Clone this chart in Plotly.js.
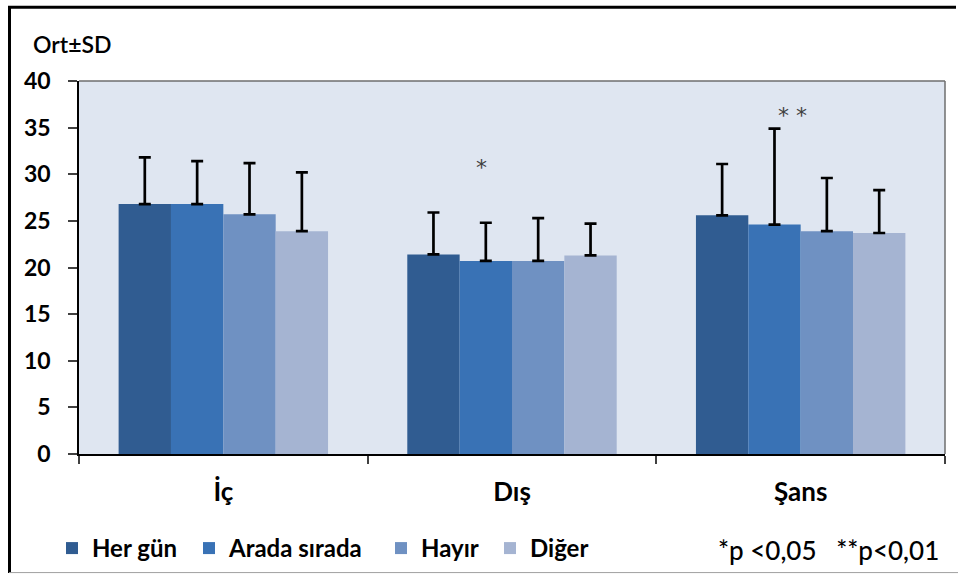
<!DOCTYPE html>
<html>
<head>
<meta charset="utf-8">
<script src="https://cdn.plot.ly/plotly-3.0.1.min.js"></script>
<style>
  html, body { margin: 0; padding: 0; background: #ffffff; }
  #chart { width: 958px; height: 583px; }
</style>
</head>
<body>
<div id="chart"></div>
<script>
// Data
const categories = ["İç", "Dış", "Şans"];
const seriesNames = ["Her gün", "Arada sırada", "Hayır", "Diğer"];
const herGun      = [26.8, 21.4, 25.6];
const aradaSirada = [26.8, 20.7, 24.6];
const hayir       = [25.7, 20.7, 23.9];
const diger       = [23.9, 21.3, 23.7];
const sdHerGun      = [5.0, 4.5, 5.5];
const sdAradaSirada = [4.6, 4.1, 10.3];
const sdHayir       = [5.5, 4.6, 5.7];
const sdDiger       = [6.3, 3.4, 4.6];
const yTicks = [0, 5, 10, 15, 20, 25, 30, 35, 40];

const values = [herGun, aradaSirada, hayir, diger];
const sds = [sdHerGun, sdAradaSirada, sdHayir, sdDiger];
const colors = ["#305c91", "#3972b5", "#6f91c2", "#a5b4d2"];
const legendIds = ["legend", "legend2", "legend3", "legend4"];

const FONT = "Lato, 'Open Sans', 'DejaVu Sans', sans-serif";

const traces = seriesNames.map((name, i) => ({
  type: "bar",
  name: name,
  x: categories,
  y: values[i],
  legend: legendIds[i],
  marker: { color: colors[i], line: { width: 0 } },
  error_y: {
    type: "data",
    symmetric: false,
    array: sds[i],
    arrayminus: sds[i].map(() => 0),
    color: "#000000",
    thickness: 2.7,
    width: 6
  },
  hoverinfo: "x+y+name"
}));

// pixel helpers for paper coordinates (plot area: x 79..945, y 81..460)
const L = 79, R = 945, T = 81, B = 460;
const px = p => (p - L) / (R - L);
const py = p => (B - p) / (B - T);

const legendX = [52, 189, 381, 490];
function mkLegend(i) {
  return {
    orientation: "h",
    x: px(legendX[i]), xanchor: "left",
    y: py(556), yanchor: "middle",
    font: { family: FONT, size: 24, color: "#000000", weight: "bold" },
    itemwidth: 30,
    bgcolor: "rgba(0,0,0,0)"
  };
}

const layout = {
  width: 958,
  height: 583,
  margin: { l: L, r: 958 - R, t: T, b: 583 - B, pad: 0 },
  paper_bgcolor: "#ffffff",
  plot_bgcolor: "#dfe6f1",
  barmode: "group",
  bargap: 0.2745,
  bargroupgap: 0,
  showlegend: true,
  legend: mkLegend(0),
  legend2: mkLegend(1),
  legend3: mkLegend(2),
  legend4: mkLegend(3),
  xaxis: {
    type: "category",
    showgrid: false,
    zeroline: false,
    showline: true,
    linecolor: "#000000",
    linewidth: 1.5,
    ticks: "outside",
    tickson: "boundaries",
    ticklen: 8,
    tickwidth: 1.5,
    tickcolor: "#404040",
    ticklabelstandoff: 14,
    tickfont: { family: FONT, size: 26, color: "#000000", weight: "bold" },
    fixedrange: true
  },
  yaxis: {
    range: [0, 40],
    tickvals: yTicks,
    ticktext: yTicks.map(String),
    showgrid: false,
    zeroline: false,
    showline: true,
    linecolor: "#000000",
    linewidth: 1.5,
    ticks: "outside",
    ticklen: 9,
    tickwidth: 1.5,
    tickcolor: "#404040",
    ticklabelstandoff: 13,
    tickfont: { family: FONT, size: 23, color: "#000000", weight: "bold" },
    fixedrange: true
  },
  shapes: [
    { type: "line", xref: "paper", yref: "paper", x0: 0, x1: 1, y0: 1, y1: 1,
      line: { color: "#6e6e6e", width: 1.5 } },
    { type: "line", xref: "paper", yref: "paper", x0: 1, x1: 1, y0: 0, y1: 1,
      line: { color: "#6e6e6e", width: 1.5 } },
    { type: "line", xref: "paper", yref: "paper", x0: px(9.5), x1: px(9.5), y0: py(5), y1: py(581),
      line: { color: "#000000", width: 3 } },
    { type: "line", xref: "paper", yref: "paper", x0: px(8), x1: px(956), y0: py(6), y1: py(6),
      line: { color: "#000000", width: 3 } },
    { type: "line", xref: "paper", yref: "paper", x0: px(9), x1: px(958), y0: py(580.5), y1: py(580.5),
      line: { color: "#a0a0a0", width: 1 } }
  ],
  annotations: [
    { text: "Ort±SD", xref: "paper", yref: "paper", x: px(31), y: py(43),
      xanchor: "left", yanchor: "middle", showarrow: false,
      font: { family: FONT, size: 23, color: "#000000", weight: 600 } },
    { text: "*", xref: "paper", yref: "paper", x: px(481), y: py(169),
      xanchor: "center", yanchor: "middle", showarrow: false,
      font: { family: "'DejaVu Sans', sans-serif", size: 22, color: "#404040" } },
    { text: "* *", xref: "paper", yref: "paper", x: px(792), y: py(116),
      xanchor: "center", yanchor: "middle", showarrow: false,
      font: { family: "'DejaVu Sans', sans-serif", size: 22, color: "#404040" } },
    { text: "*p &lt;0,05&nbsp;&nbsp; **p&lt;0,01", xref: "paper", yref: "paper", x: px(941), y: py(558),
      xanchor: "right", yanchor: "middle", showarrow: false,
      font: { family: FONT, size: 26, color: "#000000", weight: 500 } }
  ]
};

Plotly.newPlot("chart", traces, layout, { displayModeBar: false });
</script>
</body>
</html>
